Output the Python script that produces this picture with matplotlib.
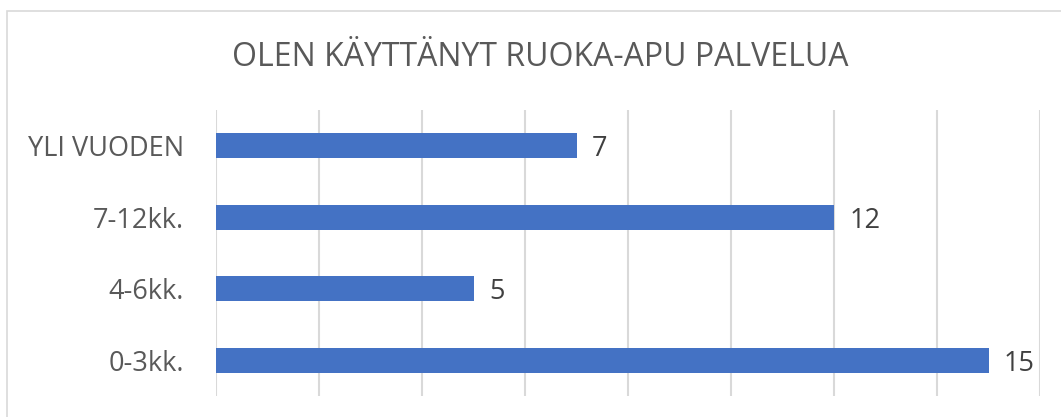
import matplotlib.pyplot as plt
from matplotlib.patches import Rectangle

# data (bottom to top)
categories = ['0-3kk.', '4-6kk.', '7-12kk.', 'YLI VUODEN']
values = [15, 5, 12, 7]
title = 'OLEN KÄYTTÄNYT RUOKA-APU PALVELUA'

W, H = 1061, 417
plt.rcParams['font.family'] = ['Open Sans', 'DejaVu Sans']

fig = plt.figure(figsize=(W / 100, H / 100), dpi=100)
ax = fig.add_axes([216 / W, 1 - 396 / H, (1040 - 216) / W, (396 - 110) / H])

ypos = range(len(categories))
bars = ax.barh(ypos, values, height=0.35, color='#4472C4', zorder=3)

for b, v in zip(bars, values):
    ax.text(b.get_width() + 0.3, b.get_y() + b.get_height() / 2 - 0.05, str(v),
            va='center', ha='left', fontsize=19.5, color='#404040')

ax.set_xlim(0, 16)
ax.set_ylim(-0.5, len(categories) - 0.5)
ax.set_xticks(range(0, 17, 2))
ax.set_xticklabels([])
ax.set_yticks(list(ypos))
ax.set_yticklabels(categories, fontsize=19.5, color='#595959')
ax.tick_params(axis='both', length=0)
ax.tick_params(axis='y', pad=23)
ax.grid(axis='x', color='#D9D9D9', linewidth=1.5, zorder=0)
for s in ax.spines.values():
    s.set_visible(False)

fig.text(540 / W, 1 - 57 / H, title, ha='center', va='center',
         fontsize=23, color='#595959')

# chart border
fig.patches.append(Rectangle((7 / W, -0.1), 1.2, 1 - 11 / H + 0.1,
                             transform=fig.transFigure, fill=False,
                             edgecolor='#D9D9D9', linewidth=1.2))

fig.savefig('out.png', dpi=100)
